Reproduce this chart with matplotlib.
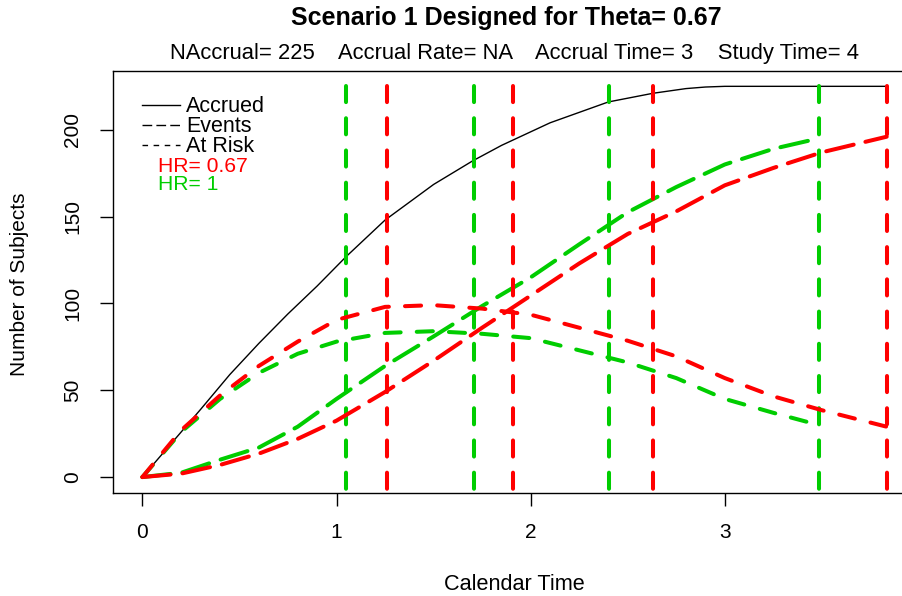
import matplotlib
matplotlib.use('Agg')
import matplotlib.pyplot as plt
from matplotlib.lines import Line2D

plt.rcParams['font.family'] = ['Liberation Sans', 'DejaVu Sans']

# accrual curve
t_acc = [0, 0.1, 0.2, 0.3, 0.45, 0.6, 0.75, 0.9, 1.05, 1.25, 1.5, 1.7, 1.85, 2.1,
         2.4, 2.63, 2.8, 2.9, 3.0, 3.834]
accrued = [0, 13, 26, 39, 59, 77, 94, 110, 127, 148, 168.5, 182, 191, 204,
           216, 221, 223.7, 224.6, 225, 225]

# HR = 0.67 (red)
t_red = [0, 0.2, 0.4, 0.6, 0.8, 1.0, 1.25, 1.5, 1.75, 2.0, 2.25, 2.5, 2.75, 3.0, 3.25, 3.5, 3.834]
events_red = [0, 2, 7, 13.5, 22, 32.5, 49, 67, 86, 104.5, 123, 140, 153, 168, 178, 187, 196]
risk_red = [0, 27, 47, 64, 78, 90.5, 98, 99, 97, 93.5, 86, 78.5, 69.5, 57, 46.5, 38.5, 29]

# HR = 1 (green)
t_grn = [0, 0.2, 0.4, 0.6, 0.8, 1.0, 1.25, 1.5, 1.75, 2.0, 2.25, 2.5, 2.75, 3.0, 3.25, 3.483]
events_grn = [0, 2.5, 10, 17, 29, 45, 64, 81, 98.5, 115, 134, 152.5, 167, 180, 189, 195]
risk_grn = [0, 26, 45, 60, 71, 78, 83, 84, 82.5, 80, 73, 66, 57, 45, 37, 30]

# analysis times (vertical lines)
looks_red = [1.258, 1.908, 2.628, 3.834]
looks_grn = [1.047, 1.706, 2.401, 3.483]

red = '#ff0000'
green = '#00cd00'
W, H = 902, 596

fig = plt.figure(figsize=(W / 100, H / 100), dpi=100)
ax = fig.add_axes([112.7 / W, 1 - 492.7 / H, (917 - 112.7) / W, (492.7 - 70.7) / H])

ax.plot(t_acc, accrued, color='black', lw=1.0)
lw = 2.9
for t, ev, rk, c, looks in [(t_grn, events_grn, risk_grn, green, looks_grn),
                            (t_red, events_red, risk_red, red, looks_red)]:
    ax.plot(t, ev, color=c, lw=lw, dashes=(7, 3), dash_capstyle='round')
    ax.plot(t, rk, color=c, lw=lw, dashes=(4, 4), dash_capstyle='round')
    for x in looks:
        ax.plot([x, x], [225, -30], color=c, lw=lw, dashes=(4, 4), dash_capstyle='round')

ax.set_xlim(-0.153, 3.99)
ax.set_ylim(-9, 234)
ax.set_xticks([0, 1, 2, 3])
ax.set_yticks([0, 50, 100, 150, 200])
ax.tick_params(length=9.6, width=1, labelsize=15, pad=12.5, direction='out')
for lab in ax.get_yticklabels():
    lab.set_rotation(90)
    lab.set_va('center')
for s in ax.spines.values():
    s.set_linewidth(1)

fig.text(20 / W, 1 - 284 / H, 'Number of Subjects', rotation=90, fontsize=15,
         ha='center', va='center')
fig.text(514 / W, 1 - 585 / H, 'Calendar Time', fontsize=15.6, ha='center', va='center')
fig.text(506 / W, 1 - 18 / H, 'Scenario 1 Designed for Theta= 0.67', fontsize=18,
         fontweight='bold', ha='center', va='center')
fig.text(514 / W, 1 - 53 / H,
         'NAccrual= 225    Accrual Rate= NA    Accrual Time= 3    Study Time= 4',
         fontsize=15.8, ha='center', va='center')

# legend
leg_rows = [('Accrued', '-', 105), ('Events', (0, (7, 3)), 125), ('At Risk', (0, (4, 4)), 145)]
for lab, ls, y in leg_rows:
    fig.add_artist(Line2D([142 / W, 180 / W], [1 - y / H, 1 - y / H], color='black',
                          lw=1, ls=ls, transform=fig.transFigure))
    fig.text(186 / W, 1 - (y + 2) / H, lab, fontsize=15.5, ha='left', va='center')
fig.text(158 / W, 1 - 166 / H, 'HR= 0.67', fontsize=15.2, color=red, ha='left', va='center')
fig.text(158 / W, 1 - 185 / H, 'HR= 1', fontsize=15.2, color=green, ha='left', va='center')

fig.savefig('out.png', dpi=100)
